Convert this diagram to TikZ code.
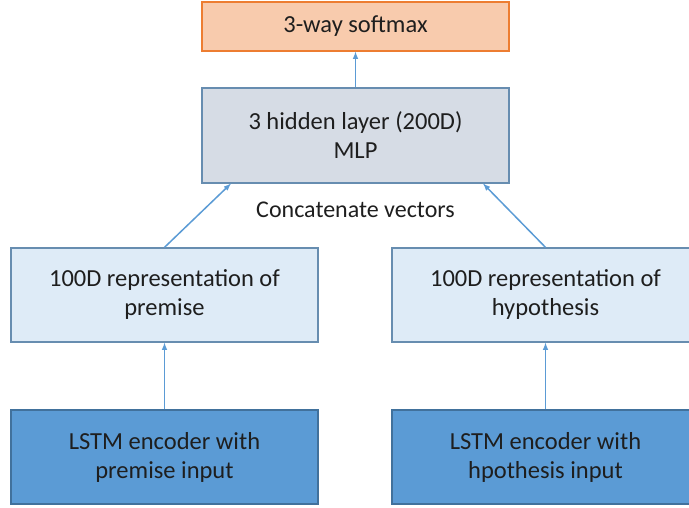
\documentclass[tikz,border=0pt]{standalone}
\usepackage{fontspec}
\setmainfont{Carlito}
\usepackage{tikz}
\usetikzlibrary{arrows}
\definecolor{peach}{HTML}{F8CBAD}
\definecolor{orangeline}{HTML}{ED7D31}
\definecolor{greyblue}{HTML}{D6DCE5}
\definecolor{paleblue}{HTML}{DEEBF7}
\definecolor{midblue}{HTML}{5B9BD5}
\definecolor{darkblue}{HTML}{41719C}
\definecolor{textgray}{HTML}{1E1E1E}
\tikzstyle{layer}=[rectangle, minimum width=307pt, inner sep=0pt, align=center, line width=1.3pt, text=textgray, font=\fontsize{24.5}{29}\selectfont]
\tikzstyle{link}=[->, >=latex, draw=midblue, line width=1.5pt]

\begin{document}
\begin{tikzpicture}[x=1pt, y=-1pt]
				\useasboundingbox (0,0) rectangle (689,508);
				\node[layer, draw=orangeline, fill=peach, minimum height=49pt] (softmax) at (355.5,26.5) {3-way softmax};
				\node[layer, draw=darkblue!80, fill=greyblue, minimum height=95pt] (mlp) at (355.5,135.5) {3 hidden layer (200D)\\MLP};
				\node[layer, draw=darkblue!80, fill=paleblue, minimum height=94pt] (premrep) at (164.5,295) {100D representation of\\premise};
				\node[layer, draw=darkblue!80, fill=paleblue, minimum height=94pt] (hyprep) at (545.5,295) {100D representation of\\hypothesis};
				\node[layer, draw=darkblue, fill=midblue, minimum height=94pt] (premlstm) at (164.5,457) {LSTM encoder with\\premise input};
				\node[layer, draw=darkblue, fill=midblue, minimum height=94pt] (hyplstm) at (545.5,457) {LSTM encoder with\\hpothesis input};
				\node[text=textgray, font=\fontsize{24}{29}\selectfont] (concat) at (355.5,210) {Concatenate vectors};
				\coordinate (mlpinl) at (231,183.5);
				\coordinate (mlpinr) at (483,183.5);
				\draw[link] (mlp) -- (softmax);
				\draw[link] (premrep.north) -- (mlpinl);
				\draw[link] (hyprep.north) -- (mlpinr);
				\draw[link] (premlstm) -- (premrep);
				\draw[link] (hyplstm) -- (hyprep);
			\end{tikzpicture}
\end{document}
